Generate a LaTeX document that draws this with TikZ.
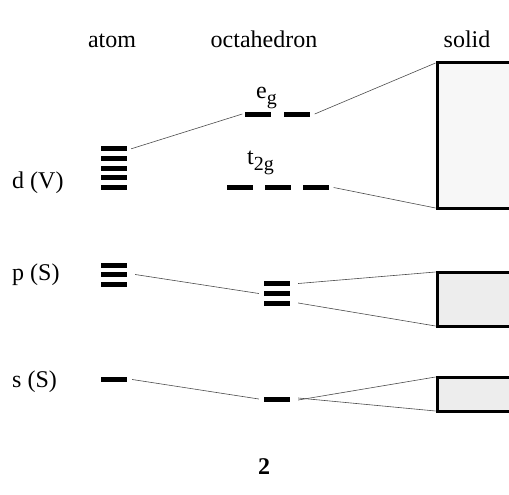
\documentclass[tikz,border=0pt]{standalone}
\usepackage{fontspec}
\setmainfont{Liberation Serif}
\newcommand{\lowsub}[1]{\raisebox{-6pt}{\fontsize{20}{24}\selectfont #1}}
\begin{document}
\begin{tikzpicture}[x=1pt,y=-1pt,
  level/.style={fill=black,draw=none,inner sep=0pt,minimum width=26pt,minimum height=5pt},
  band/.style={draw=black,line width=3pt,fill=black!7},
  link/.style={draw=black!70,line width=0.6pt},
  lbl/.style={font=\fontsize{24}{28}\selectfont,inner sep=0pt},
  every node/.style={inner sep=0pt}]
\useasboundingbox (0,0) rectangle (509,495);

% column headings
\node[lbl,anchor=base] (hatom) at (112,48) {atom};
\node[lbl,anchor=base] (hoct) at (264,48) {octahedron};
\node[lbl,anchor=base] (hsol) at (467,48) {solid};

% row labels
\node[lbl,anchor=base west] (ld) at (12,188) {d (V)};
\node[lbl,anchor=base west] (lp) at (12,280) {p (S)};
\node[lbl,anchor=base west] (ls) at (12,387) {s (S)};

% atomic levels
\foreach \i/\y in {1/148.5,2/158,3/168,4/177.5,5/187}
  \node[level] (d\i) at (114,\y) {};
\foreach \i/\y in {1/265,2/274.5,3/284}
  \node[level] (p\i) at (114,\y) {};
\node[level] (s1) at (114,379.5) {};

% octahedral levels
\node[level] (eg1) at (257.5,114) {};
\node[level] (eg2) at (296.5,114) {};
\node[level] (t1) at (239.5,187.5) {};
\node[level] (t2) at (277.5,187.5) {};
\node[level] (t3) at (315.5,187.5) {};
\node[lbl,anchor=base west] (leg) at (256,99) {e\lowsub{g}};
\node[lbl,anchor=base west] (lt) at (247,164) {t\lowsub{2g}};
\foreach \i/\y in {1/283.5,2/293.5,3/303}
  \node[level] (po\i) at (277,\y) {};
\node[level] (so) at (277,399) {};

% solid-state bands
\path[band,fill=black!3] (437,63) rectangle (512,208);
\path[band] (437,272) rectangle (512,326);
\path[band] (437,377) rectangle (512,411);
\coordinate (bdt) at (435.5,63);
\coordinate (bdb) at (435.5,208);
\coordinate (bpt) at (435.5,272);
\coordinate (bpb) at (435.5,326);
\coordinate (bst) at (435.5,377);
\coordinate (bsb) at (435.5,411);

% correlation lines
\draw[link] ([xshift=4pt,yshift=-3pt]d1.north east) -- ([xshift=-2pt]eg1.west);
\draw[link] ([xshift=5pt]eg2.east) -- (bdt);
\draw[link] ([xshift=5pt]t3.east) -- (bdb);
\draw[link] ([xshift=8pt]p2.east) -- ([xshift=-5pt]po2.west);
\draw[link] ([xshift=8pt]po1.east) -- (bpt);
\draw[link] ([xshift=8pt]po3.east) -- (bpb);
\draw[link] ([xshift=5pt]s1.east) -- ([xshift=-5pt]so.west);
\draw[link] ([xshift=8pt,yshift=-1pt]so.east) -- (bst);
\draw[link] ([xshift=8pt,yshift=1pt]so.east) -- (bsb);

% figure number
\node[lbl,anchor=base,font=\fontsize{24}{28}\selectfont\bfseries] (num) at (264,474) {2};
\end{tikzpicture}
\end{document}
